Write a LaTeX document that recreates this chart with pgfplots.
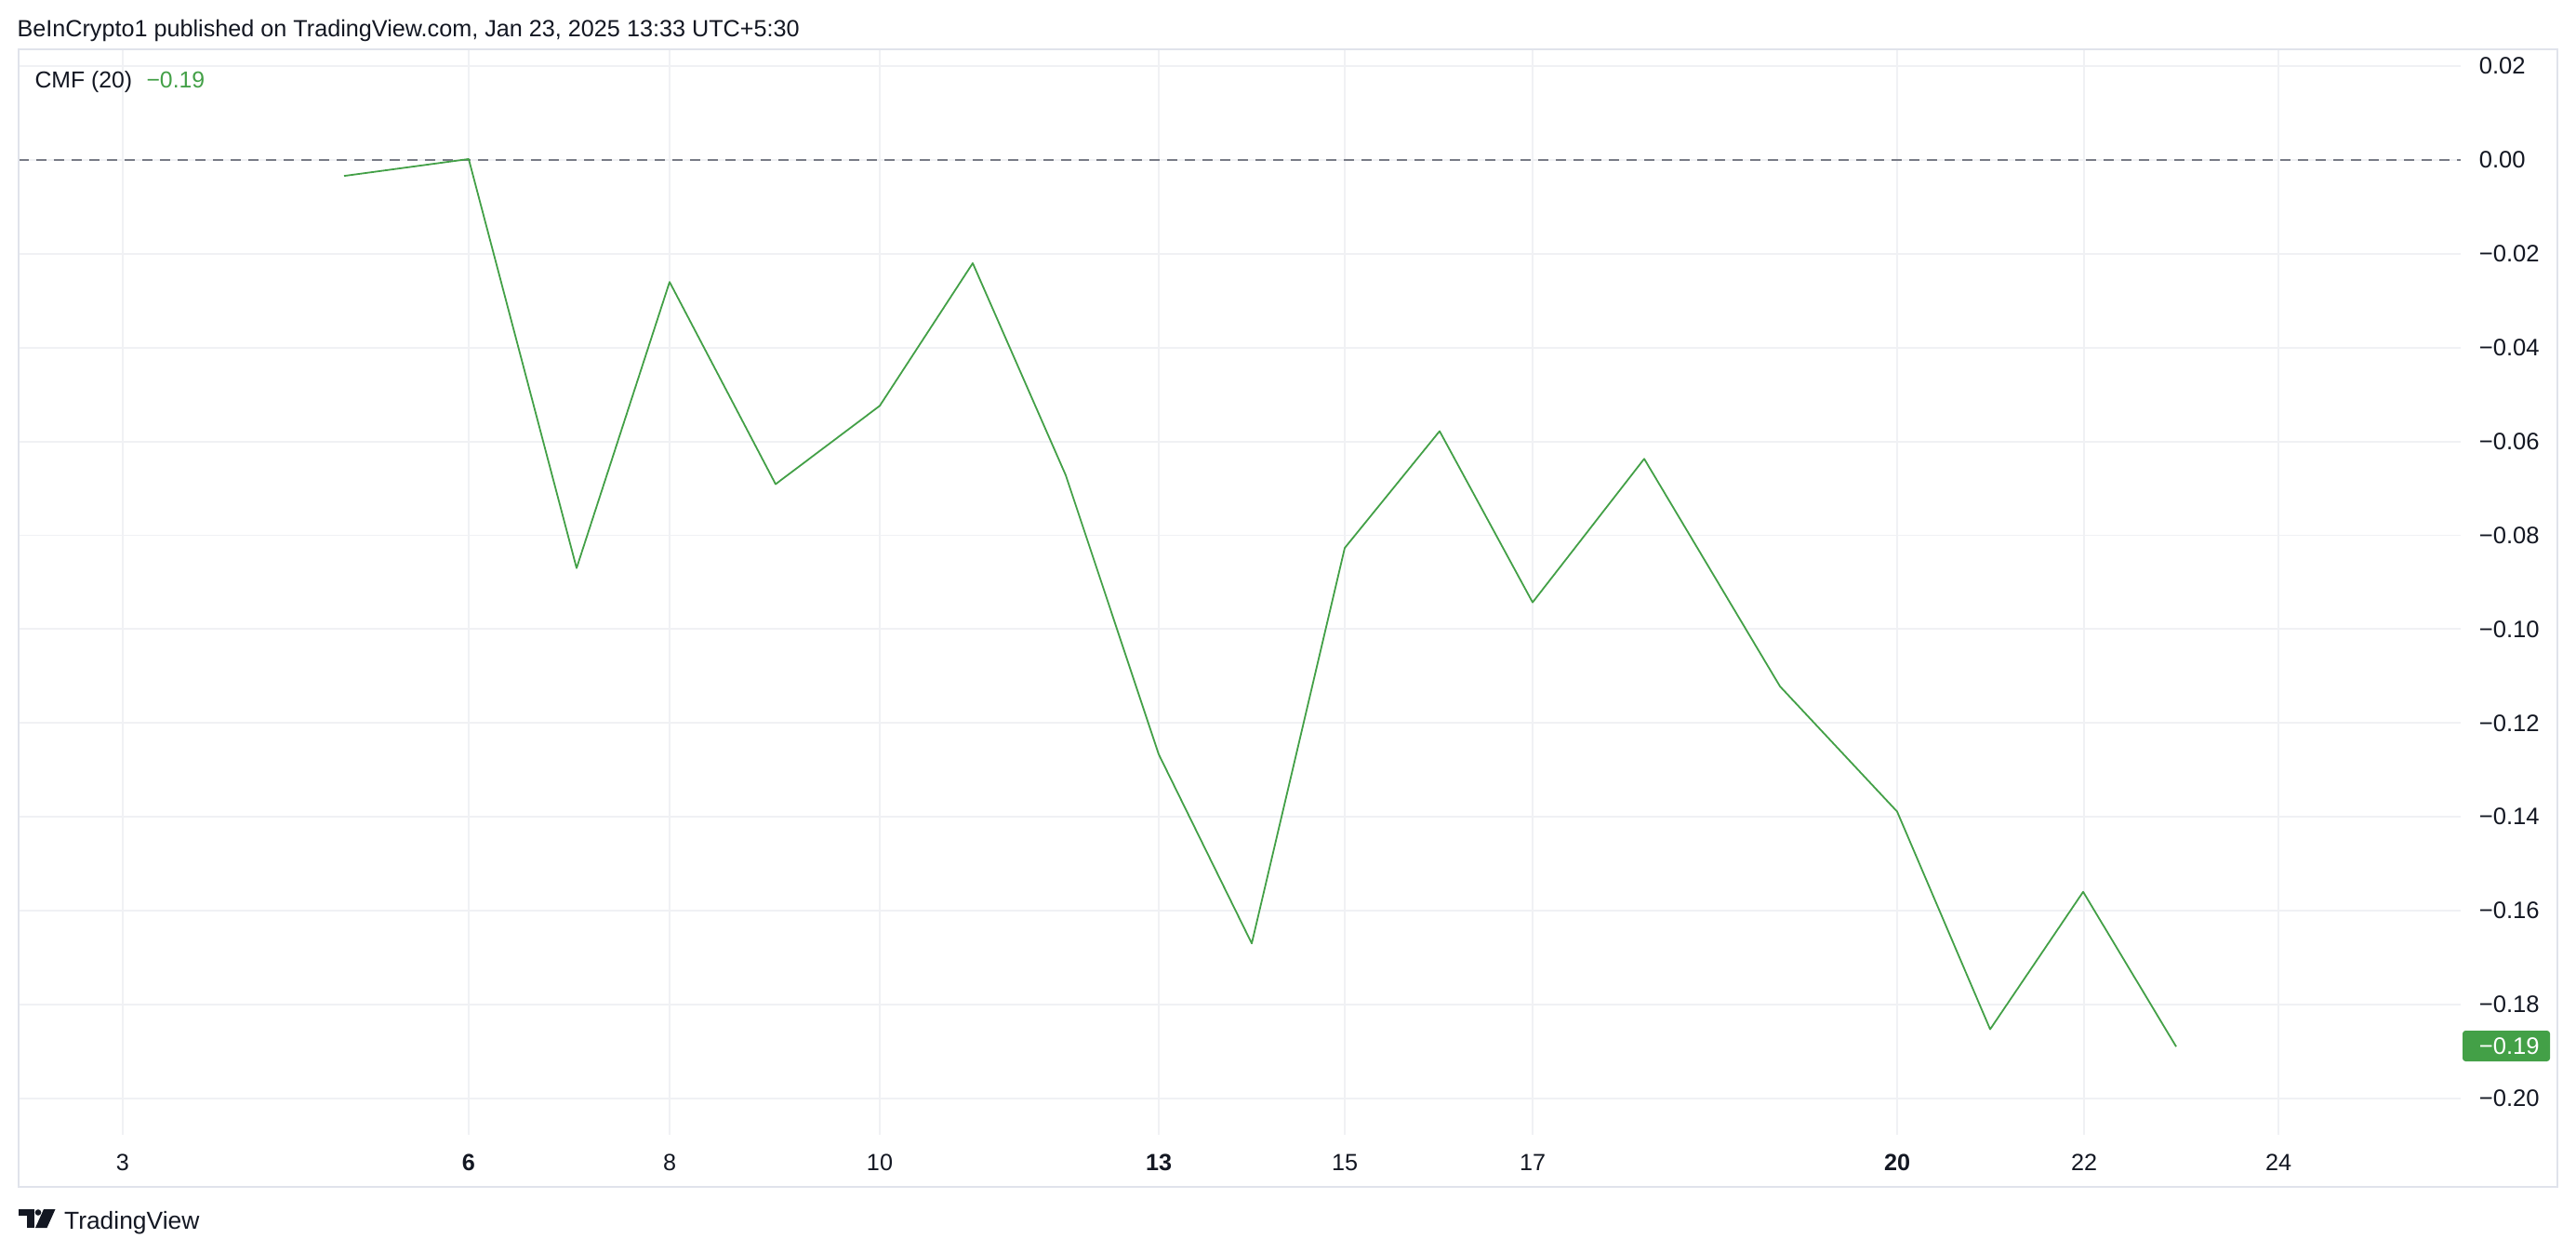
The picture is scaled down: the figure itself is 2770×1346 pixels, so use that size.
\documentclass[border=0pt]{standalone}
\usepackage{fontspec}
\setmainfont{Liberation Sans}
\usepackage{pgfplots}
\usepackage{pgfplotstable}
\pgfplotsset{compat=1.18}

\definecolor{cmf}{HTML}{43A047}
\definecolor{tvtext}{HTML}{131722}
\definecolor{tvgrid}{HTML}{F0F1F4}
\definecolor{tvframe}{HTML}{E0E3EB}
\definecolor{tvzero}{HTML}{787B86}

% CMF(20), daily; pos = horizontal position of the bar on the time scale
\pgfplotstableread{
day pos cmf
5  370  -0.0034
6  504   0.0002
7  620  -0.0870
8  720  -0.0260
9  834  -0.0691
10 946  -0.0524
11 1046 -0.0220
12 1146 -0.0672
13 1246 -0.1267
14 1346 -0.1670
15 1446 -0.0827
16 1548 -0.0578
17 1648 -0.0943
18 1768 -0.0637
19 1914 -0.1122
20 2040 -0.1389
21 2140 -0.1853
22 2240 -0.1560
23 2340 -0.1890
}\cmftable

\begin{document}
\begin{tikzpicture}
\begin{scope}[x=0.25pt, y=-0.25pt]
  \path[use as bounding box] (0,0) rectangle (2770,1346);
\end{scope}

\begin{axis}[
    at={(5pt,-305pt)}, anchor=south west,
    scale only axis, width=656.5pt, height=291.75pt,
    xmin=20, xmax=2646,
    ymin=-0.207796, ymax=0.023595,
    axis line style={draw=none},
    major tick length=0pt,
    grid=major,
    major grid style={tvgrid, line width=0.45pt},
    xtick={132,504,720,946,1246,1446,1648,2040,2241,2450},
    xticklabels={3,\textbf{6},8,10,\textbf{13},15,17,\textbf{20},22,24},
    ytick={-0.20,-0.18,-0.16,-0.14,-0.12,-0.10,-0.08,-0.06,-0.04,-0.02,0,0.02},
    yticklabels={−0.20,−0.18,−0.16,−0.14,−0.12,−0.10,−0.08,−0.06,−0.04,−0.02,0.00,0.02},
    yticklabel pos=right,
    xticklabel style={anchor=center, inner sep=0pt, yshift=-7.5pt,
      font=\fontsize{6.3}{7}\selectfont, text=tvtext},
    yticklabel style={anchor=west, inner sep=0pt, xshift=4.75pt,
      font=\fontsize{6.4}{7}\selectfont, text=tvtext},
  ]
  \addplot[tvzero, line width=0.5pt, dash pattern=on 2.75pt off 2pt, forget plot]
    coordinates {(20,0) (2646,0)};
  \addplot[cmf, line width=0.45pt, line join=round] table[x=pos, y=cmf] {\cmftable};
\end{axis}

\begin{scope}[x=0.25pt, y=-0.25pt]
  \draw[tvframe, line width=0.6pt] (20,53) rectangle (2750,1276);
  \node[anchor=base west, inner sep=0pt, text=tvtext, font=\fontsize{6.3}{7}\selectfont]
    at (17.7,40) {BeInCrypto1 published on TradingView.com, Jan 23, 2025 13:33 UTC+5:30};
  \node[anchor=base west, inner sep=0pt, text=tvtext, font=\fontsize{6.2}{7}\selectfont]
    at (36.7,94.5) {CMF (20)};
  \node[anchor=base west, inner sep=0pt, text=cmf, font=\fontsize{6.2}{7}\selectfont]
    at (156.7,94.5) {−0.19};
  % last value badge
  \fill[cmf, rounded corners=0.8pt] (2648,1108) rectangle (2742,1141);
  \node[anchor=west, inner sep=0pt, text=white, font=\fontsize{6.4}{7}\selectfont]
    at (2665,1124.5) {−0.19};
  % TradingView logo
  \fill[tvtext] (20,1300) rectangle (37.3,1306.5);
  \fill[tvtext] (28.5,1300) rectangle (37.3,1320);
  \fill[tvtext] (41,1303.5) circle (3.3);
  \fill[tvtext] (47,1300) -- (59.5,1300) -- (50.5,1320) -- (38,1320) -- cycle;
  \node[anchor=base west, inner sep=0pt, text=tvtext, font=\fontsize{6.6}{7}\selectfont]
    at (68.3,1321.7) {TradingView};
\end{scope}
\end{tikzpicture}
\end{document}
